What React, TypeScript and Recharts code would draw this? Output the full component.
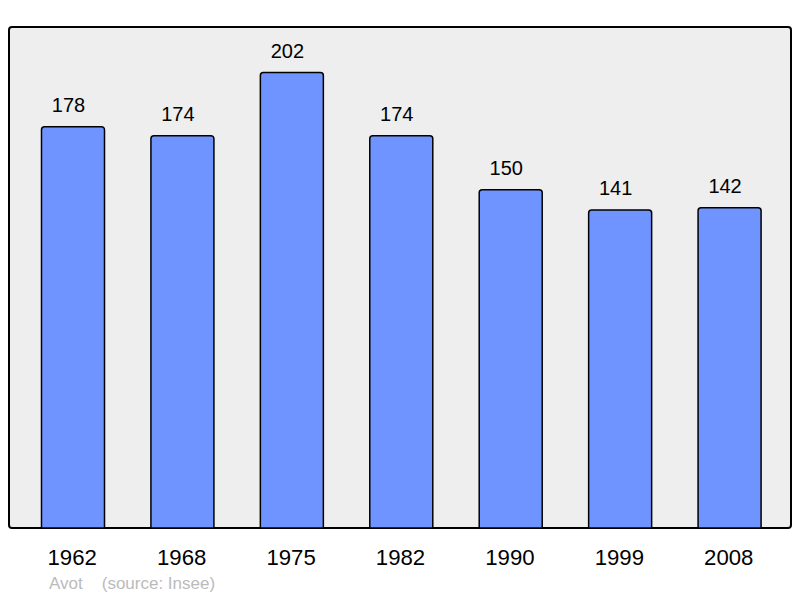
import React from 'react';
import { BarChart, Bar, XAxis, YAxis, LabelList } from 'recharts';

const years = ['1962', '1968', '1975', '1982', '1990', '1999', '2008'];
const population = [178, 174, 202, 174, 150, 141, 142];
const commune = 'Avot';
const source = '(source: Insee)';

const data = years.map((y, i) => ({ year: y, pop: population[i] }));
const FONT = '"Liberation Sans", Arial, sans-serif';

export default function App() {
  return (
    <div style={{ position: 'absolute', left: 0, top: 0, width: 800, height: 598, fontFamily: FONT }}>
      <div
        style={{
          position: 'absolute',
          left: 7.5,
          top: 26,
          width: 784,
          height: 503,
          boxSizing: 'border-box',
          background: '#eeeeee',
          border: '2px solid #000',
          borderRadius: 4,
        }}
      />
      <div style={{ position: 'absolute', left: 0, top: 0 }}>
        <BarChart width={800} height={598} data={data} margin={{ top: 27, right: 9, bottom: 0, left: 8 }}>
          <XAxis
            dataKey="year"
            height={70}
            axisLine={false}
            tickLine={false}
            tickSize={6}
            tickMargin={15}
            padding={{ left: 10.5, right: 6.5 }}
            tick={{ fill: '#000', fontSize: 22.2, fontFamily: FONT, dx: -1 }}
            interval={0}
          />
          <YAxis hide domain={[0, 222.2]} />
          <Bar
            dataKey="pop"
            fill="#7094ff"
            stroke="#000"
            strokeWidth={1.5}
            barSize={63}
            radius={[3, 3, 0, 0]}
            isAnimationActive={false}
          >
            <LabelList
              dataKey="pop"
              position="top"
              offset={15}
              dx={-4.5}
              fill="#000"
              fontSize={20}
              fontFamily={FONT}
            />
          </Bar>
        </BarChart>
      </div>
      <div
        style={{
          position: 'absolute',
          left: 49,
          top: 574.4,
          fontSize: 17,
          color: '#bbbbbb',
          whiteSpace: 'pre',
          lineHeight: '20px',
        }}
      >
        <span>{commune}</span>
        <span style={{ marginLeft: 19 }}>{source}</span>
      </div>
    </div>
  );
}
